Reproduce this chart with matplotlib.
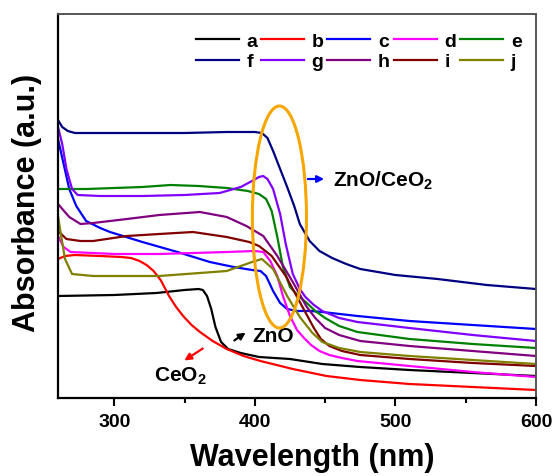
import matplotlib
matplotlib.use('Agg')
import matplotlib.pyplot as plt
from matplotlib.patches import Ellipse


# _____DATA____

# wavelength (nm) / absorbance (a.u., arbitrary offset)
a_nm = [260, 300, 330, 350, 360, 363, 366, 369, 372, 376, 381, 390, 403, 425, 448, 475, 510, 555, 600]
a_abs = [102, 103, 105, 108, 109, 108, 102, 89, 71, 56, 49, 45, 41, 39, 34, 31, 28, 25, 22]

b_nm = [260, 265, 272, 290, 305, 312, 318, 323, 328, 333, 339, 344, 349, 355, 361, 370, 380, 392, 404, 427,
        451, 475, 510, 555, 600]
b_abs = [139, 142, 143, 142, 141, 140, 137, 133, 127, 118, 102, 91, 82, 73, 66, 57, 49, 42, 37, 29,
         22, 18, 14, 11, 8]

c_nm = [260, 264, 268, 273, 280, 290, 297, 320, 345, 368, 385, 398, 404, 408, 413, 418, 423, 430, 440, 448,
        473, 510, 555, 600]
c_abs = [259, 234, 209, 192, 177, 170, 166, 156, 146, 136, 131, 128, 127, 122, 107, 95, 89, 87, 87, 86,
         82, 77, 73, 69]

d_nm = [260, 264, 269, 300, 332, 380, 400, 406, 411, 416, 420, 425, 430, 435, 440, 446, 453, 462, 473, 510,
        555, 600]
d_abs = [162, 151, 146, 144, 144, 146, 147, 146, 137, 122, 102, 82, 68, 60, 53, 47, 43, 40, 37, 32,
         26, 21]

e_nm = [260, 280, 300, 320, 340, 360, 380, 395, 403, 408, 412, 416, 420, 425, 431, 437, 443, 450, 460, 473,
        510, 555, 600]
e_abs = [209, 209, 210, 211, 213, 212, 210, 207, 204, 199, 187, 161, 131, 111, 102, 95, 87, 80, 72, 66,
         59, 54, 50]

f_nm = [260, 263, 267, 272, 300, 350, 380, 400, 405, 409, 413, 418, 423, 428, 432, 439, 446, 455, 465, 475,
        500, 530, 565, 600]
f_abs = [278, 271, 267, 265, 265, 265, 266, 266, 265, 260, 247, 229, 211, 192, 174, 157, 147, 140, 134, 129,
         123, 119, 113, 109]

g_nm = [260, 263, 266, 270, 274, 290, 320, 350, 375, 390, 398, 403, 406, 409, 413, 418, 422, 427, 432, 436,
        442, 448, 460, 473, 510, 555, 600]
g_abs = [271, 254, 229, 209, 203, 202, 202, 203, 205, 211, 217, 221, 222, 219, 209, 184, 154, 124, 109, 101,
         93, 87, 80, 76, 70, 63, 57]

h_nm = [260, 268, 276, 285, 309, 332, 361, 380, 394, 406, 416, 427, 437, 443, 450, 460, 475, 510, 555, 600]
h_abs = [194, 181, 174, 175, 179, 183, 186, 181, 172, 162, 142, 116, 91, 80, 70, 63, 57, 52, 47, 42]

i_nm = [260, 266, 276, 285, 309, 332, 356, 380, 396, 403, 412, 422, 432, 437, 442, 447, 453, 462, 475, 510,
        555, 600]
i_abs = [167, 159, 157, 157, 162, 164, 166, 161, 156, 152, 142, 122, 96, 83, 70, 59, 52, 47, 43, 39,
         35, 32]

j_nm = [260, 262, 265, 270, 285, 332, 380, 398, 405, 413, 423, 432, 441, 448, 460, 475, 510, 555, 600]
j_abs = [182, 164, 139, 124, 122, 122, 127, 136, 139, 129, 102, 81, 65, 56, 50, 46, 42, 38, 34]

labels = ['a', 'b', 'c', 'd', 'e', 'f', 'g', 'h', 'i', 'j']
colors = ['#000000', '#ff0000', '#0000ff', '#ff00ff', '#008000',
          '#000080', '#8000ff', '#800080', '#800000', '#808000']
series = [(a_nm, a_abs), (b_nm, b_abs), (c_nm, c_abs), (d_nm, d_abs), (e_nm, e_abs),
          (f_nm, f_abs), (g_nm, g_abs), (h_nm, h_abs), (i_nm, i_abs), (j_nm, j_abs)]

x_ticks = [300, 400, 500, 600]
x_minor = [350, 450, 550]


# _____PLOT____

plt.rcParams['font.family'] = ['Liberation Sans', 'DejaVu Sans']
plt.rcParams['font.weight'] = 'bold'
plt.rcParams['mathtext.fontset'] = 'custom'
plt.rcParams['mathtext.rm'] = 'Liberation Sans:bold'
plt.rcParams['mathtext.default'] = 'rm'

fig = plt.figure(figsize=(5.54, 4.77), dpi=100)
ax = fig.add_axes([58 / 554, 78 / 477, 478 / 554, 384 / 477])

# plot traces
handles = []
for (x, y), lab, col in zip(series, labels, colors):
    line, = ax.plot(x, y, color=col, lw=1.6, label=lab)
    handles.append(line)

ax.set_xlim(260, 600)
ax.set_ylim(0, 384)

# orange ellipse around the band edge
ax.add_patch(Ellipse((417.5, 181), width=38.5, height=222, fill=False,
                     edgecolor='#f7a600', lw=2.2, zorder=5))

# annotations
ax.annotate('', xy=(451.3, 219), xytext=(435.7, 219),
            arrowprops=dict(arrowstyle='-|>', color='#0000ff', lw=1.6, mutation_scale=10))
ax.text(455.3, 212, 'ZnO/CeO$_2$', fontsize=15, fontweight='bold', va='baseline', ha='left')

ax.annotate('', xy=(395.1, 67), xytext=(383.8, 56),
            arrowprops=dict(arrowstyle='-|>', color='#000000', lw=1.6, mutation_scale=10))
ax.text(398.0, 57, 'ZnO', fontsize=15, fontweight='bold', va='baseline', ha='left')

ax.annotate('', xy=(348.2, 36), xytext=(364.6, 51),
            arrowprops=dict(arrowstyle='-|>', color='#ff0000', lw=1.6, mutation_scale=10))
ax.text(328.3, 17, 'CeO$_2$', fontsize=15, fontweight='bold', va='baseline', ha='left')

# legend, filled row by row
order = [0, 5, 1, 6, 2, 7, 3, 8, 4, 9]
ax.legend([handles[k] for k in order], [labels[k] for k in order], ncol=5, frameon=False,
          loc='upper left', bbox_to_anchor=(0.268, 0.978), fontsize=14,
          handlelength=2.2, handletextpad=0.4, columnspacing=0.2, labelspacing=0.15, borderpad=0)

# axes styling
ax.set_xticks(x_ticks)
ax.set_xticks(x_minor, minor=True)
ax.set_yticks([])
ax.tick_params(axis='x', which='major', direction='out', length=6, width=1.5, labelsize=14, pad=5)
ax.tick_params(axis='x', which='minor', direction='out', length=3.5, width=1.5)
for side in ['left', 'bottom']:
    ax.spines[side].set_linewidth(1.6)
for side in ['top', 'right']:
    ax.spines[side].set_linewidth(1.4)
    ax.spines[side].set_color('#555555')

ax.set_xlabel('Wavelength (nm)', fontsize=22, fontweight='bold')
ax.xaxis.set_label_coords(0.531, -0.115)
ax.set_ylabel('Absorbance (a.u.)', fontsize=22, fontweight='bold')
ax.yaxis.set_label_coords(-0.033, 0.51)

plt.savefig('out.png', dpi=100)
plt.close('all')
